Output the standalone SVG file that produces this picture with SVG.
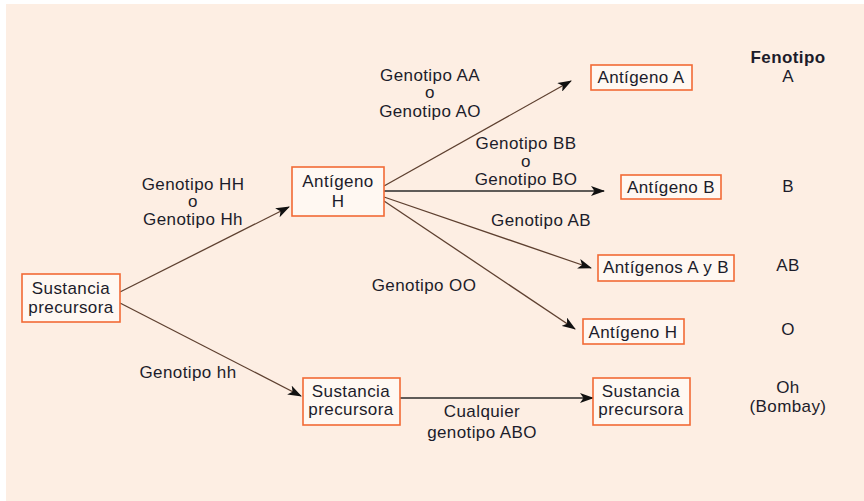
<svg xmlns="http://www.w3.org/2000/svg" width="864" height="501" viewBox="0 0 864 501">
<defs>
<marker id="ah" viewBox="0 0 14 10" refX="13" refY="5" markerWidth="14" markerHeight="10" markerUnits="userSpaceOnUse" orient="auto">
<path d="M0,0 L14,5 L0,10 L3.5,5 z" fill="#111"/>
</marker>
<style>
text{font-family:"Liberation Sans",Arial,sans-serif;font-size:17px;letter-spacing:0.4px;fill:#1c1c2a;text-anchor:middle}
.b{font-weight:bold}
.node rect{fill:#fff8f2;stroke:#f26a35;stroke-width:1.6}
.c line{stroke:#5e4030;stroke-width:1.3;marker-end:url(#ah)}
.c line.h{stroke:#2a2a2a}
</style>
</defs>
<rect x="0" y="0" width="864" height="501" fill="#ffffff"/>
<rect x="6" y="4" width="858" height="497" fill="#fdeee3"/>

<g class="c" id="connectors">
<line x1="120" y1="292" x2="289" y2="207"/>
<line x1="120" y1="303" x2="301" y2="396"/>
<line x1="384" y1="186" x2="571" y2="81"/>
<line class="h" x1="384" y1="191" x2="604" y2="191"/>
<line x1="384" y1="197" x2="591" y2="268"/>
<line x1="384" y1="201" x2="575" y2="329"/>
<line class="h" x1="400" y1="398" x2="593" y2="398"/>
</g>

<g class="node" id="n-sust1">
<rect x="22" y="274" width="98" height="48"/>
<text x="71" y="294">Sustancia</text>
<text x="71" y="313">precursora</text>
</g>
<g class="node" id="n-antH">
<rect x="292" y="167" width="92" height="49"/>
<text x="338" y="187">Antígeno</text>
<text x="338" y="207">H</text>
</g>
<g class="node" id="n-antA">
<rect x="591" y="65" width="101" height="25"/>
<text x="641" y="83">Antígeno A</text>
</g>
<g class="node" id="n-antB">
<rect x="621" y="175" width="100" height="24"/>
<text x="671" y="193">Antígeno B</text>
</g>
<g class="node" id="n-antAB">
<rect x="598" y="255" width="136" height="26"/>
<text x="666" y="273">Antígenos A y B</text>
</g>
<g class="node" id="n-antH2">
<rect x="583" y="319" width="101" height="25"/>
<text x="633" y="338">Antígeno H</text>
</g>
<g class="node" id="n-sust2">
<rect x="303" y="378" width="97" height="47"/>
<text x="351" y="397">Sustancia</text>
<text x="351" y="415">precursora</text>
</g>
<g class="node" id="n-sust3">
<rect x="593" y="378" width="97" height="47"/>
<text x="641" y="397">Sustancia</text>
<text x="641" y="415">precursora</text>
</g>

<g id="labels">
<text x="193" y="190">Genotipo HH</text>
<text x="193" y="207">o</text>
<text x="193" y="225">Genotipo Hh</text>
<text x="430" y="81">Genotipo AA</text>
<text x="430" y="98">o</text>
<text x="430" y="117">Genotipo AO</text>
<text x="526" y="149">Genotipo BB</text>
<text x="526" y="167">o</text>
<text x="526" y="185">Genotipo BO</text>
<text x="541" y="226">Genotipo AB</text>
<text x="424" y="291">Genotipo OO</text>
<text x="188" y="378">Genotipo hh</text>
<text x="482" y="417">Cualquier</text>
<text x="482" y="438">genotipo ABO</text>
</g>

<g id="phenotypes">
<text class="b" x="788" y="63">Fenotipo</text>
<text x="788" y="82">A</text>
<text x="788" y="192">B</text>
<text x="788" y="271">AB</text>
<text x="788" y="335">O</text>
<text x="788" y="393">Oh</text>
<text x="788" y="412">(Bombay)</text>
</g>
</svg>
